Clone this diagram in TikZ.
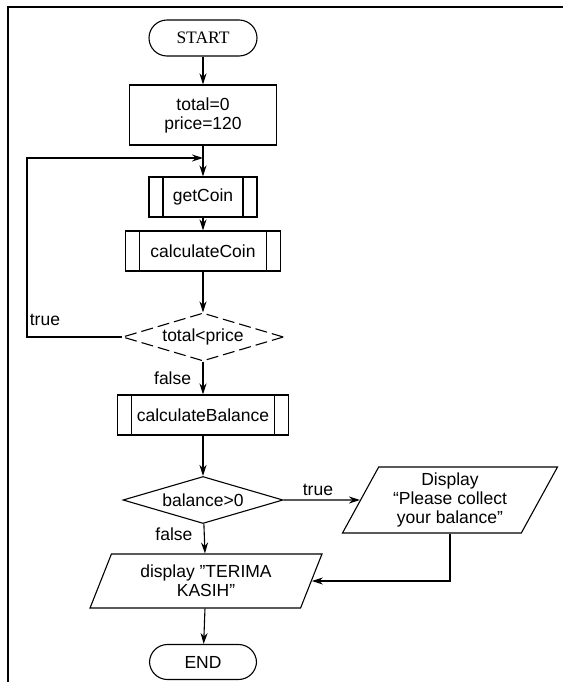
\documentclass[tikz,border=0pt]{standalone}
\usepackage{fontspec}
\setmainfont{Liberation Sans}
\newfontfamily\timesface{Liberation Serif}
\usepackage{tikz}
\usetikzlibrary{
    arrows.meta,
    shapes.geometric
}

\begin{document}
\begin{tikzpicture}[x=1pt,y=-1pt,->,>={Stealth[length=11pt,width=7pt]},line width=1.1pt,font=\fontsize{17.5}{19}\selectfont]
    \tikzstyle{terminal}=[draw, rectangle, rounded corners=18pt, minimum height=36pt, inner sep=0pt]
    \tikzstyle{process}=[draw, rectangle, align=center, inner sep=0pt]
    \tikzstyle{subproc}=[draw, rectangle, minimum height=40pt, inner sep=0pt,
        path picture={\draw[-] ([xshift=14pt]path picture bounding box.north west) -- ([xshift=14pt]path picture bounding box.south west);
                      \draw[-] ([xshift=-14pt]path picture bounding box.north east) -- ([xshift=-14pt]path picture bounding box.south east);}]
    \tikzstyle{decision}=[draw, diamond, aspect=3.4, inner sep=0pt]
    \tikzstyle{io}=[draw, trapezium, trapezium stretches=true, align=center, inner sep=0pt]

    % frame
    \useasboundingbox (0,0) rectangle (563,682);
    \draw [-] (8,682) -- (8,7) -- (563,7);

    \node [terminal, minimum width=108pt] (start) at (203, 38) {\timesface START};

    \node [process, minimum width=147pt, minimum height=60pt] (init) at (203, 115) {total=0\\ price=120};
    \coordinate (join) at (203, 158);

    \node [subproc, minimum width=108pt] (getcoin) at (203, 197) {getCoin};
    \node [subproc, minimum width=155pt] (calccoin) at (203, 251) {calculateCoin};

    \node [decision, dashed, dash pattern=on 12pt off 5pt, minimum width=161pt, minimum height=48pt] (check) at (203, 337) {total<price};

    \node [subproc, minimum width=171pt] (calcbal) at (203, 415) {calculateBalance};
    \node [decision, minimum width=160pt, minimum height=47pt] (bal) at (203, 500) {balance>0};

    \node [io, trapezium left angle=62, trapezium right angle=118, minimum width=215pt, minimum height=66pt] (disp) at (450, 500) {Display\\ “Please collect\\ your balance”};
    \node [io, trapezium left angle=65, trapezium right angle=115, minimum width=232pt, minimum height=54pt] (thanks) at (206, 581) {display "TERIMA\\ KASIH"};

    \node [terminal, minimum width=107pt, minimum height=35pt] (end) at (203, 662) {END};

    \draw (start) -- (init);
    \draw [-] (init) -- (join);
    \draw (join) -- (getcoin);
    \draw (getcoin) -- (calccoin);
    \draw (calccoin) -- (check);
    \draw (check.west) -- ++(-95, 0) |- node[pos=0.02, above, xshift=18pt]{true} (join);
    \draw (check) -- node[pos=0.5, left, xshift=-8pt]{false} (calcbal);
    \draw (calcbal) -- (bal);
    \draw (bal.east) -- node[above, pos=0.45]{true} (disp.west);
    \draw (bal) -- node[pos=0.35, left, xshift=-8pt]{false} (thanks);
    \draw (disp.south) |- (thanks.east);
    \draw (thanks) -- (end);
\end{tikzpicture}
\end{document}
